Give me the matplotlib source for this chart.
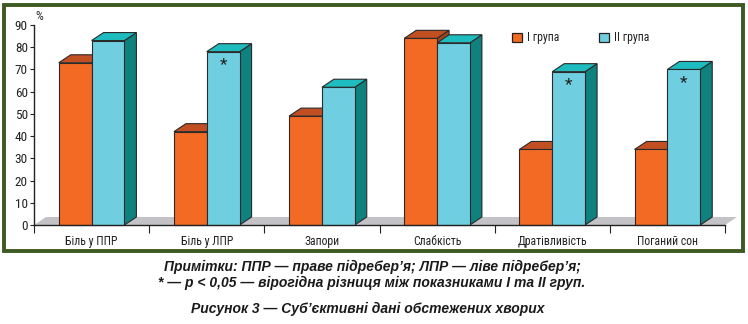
import matplotlib
matplotlib.use("Agg")
import matplotlib.pyplot as plt
from matplotlib import font_manager as fm
from matplotlib.patches import Polygon, Rectangle
from matplotlib.ticker import FixedLocator, NullFormatter, FixedFormatter

_names = {f.name for f in fm.fontManager.ttflist}
narrow = next((n for n in ['Liberation Sans Narrow', 'Roboto Condensed', 'PT Sans Narrow', 'Liberation Sans']
               if n in _names), 'DejaVu Sans')
plt.rcParams['font.family'] = [narrow, 'DejaVu Sans']

categories = ["Біль у ППР", "Біль у ЛПР", "Запори", "Слабкість", "Дратівливість", "Поганий сон"]
group1 = [73, 42, 49, 84, 34, 34]
group2 = [83, 78, 62, 82, 69, 70]
significant = [False, True, False, False, True, True]
series_names = ["І група", "ІІ група"]
yticks = [0, 10, 20, 30, 40, 50, 60, 70, 80, 90]

W, H = 748, 324
fig = plt.figure(figsize=(W / 100, H / 100), dpi=100)

# frame
fig.patches.append(Rectangle((4 / W, 73 / H), 739 / W, 246 / H, transform=fig.transFigure,
                             fill=False, edgecolor='#3E5A23', linewidth=2.8))

ax = fig.add_axes([34 / W, (H - 225) / H, (725 - 34) / W, 200 / H])
ax.set_xlim(0, len(categories))
ax.set_ylim(0, 90)

# depth offsets (in data units) corresponding to ~12 px right, ~8 px up
dx = 12 / 691 * len(categories)
dy = 8 / 200 * 90

# floor
ax.add_patch(Polygon([(0, 0), (len(categories), 0), (len(categories) + dx, dy), (dx, dy)],
                     closed=True, facecolor='#C3C3C7', edgecolor='none', zorder=1, clip_on=False))

colors = {
    0: dict(front='#F26A23', top='#C24F22', side='#A8441C'),
    1: dict(front='#6FCFE0', top='#1EBCBE', side='#0F827F'),
}
ec = '#2A2A2A'
lw = 0.8

def draw_bar(x0, x1, h, c, z):
    front = Polygon([(x0, 0), (x1, 0), (x1, h), (x0, h)], closed=True,
                    facecolor=c['front'], edgecolor=ec, linewidth=lw, zorder=z, clip_on=False)
    top = Polygon([(x0, h), (x1, h), (x1 + dx, h + dy), (x0 + dx, h + dy)], closed=True,
                  facecolor=c['top'], edgecolor=ec, linewidth=lw, zorder=z, clip_on=False)
    side = Polygon([(x1, 0), (x1 + dx, dy), (x1 + dx, h + dy), (x1, h)], closed=True,
                   facecolor=c['side'], edgecolor=ec, linewidth=lw, zorder=z, clip_on=False)
    ax.add_patch(side)
    ax.add_patch(front)
    ax.add_patch(top)

for i, (a, b) in enumerate(zip(group1, group2)):
    draw_bar(i + 0.215, i + 0.50, a, colors[0], 2 + i * 2)
    draw_bar(i + 0.50, i + 0.785, b, colors[1], 3 + i * 2)
    if significant[i]:
        ax.annotate('*', (i + 0.6425, b), xytext=(0, -4), textcoords='offset points',
                    ha='center', va='top', fontsize=12.5, color='#222222', zorder=20)

# axes styling
for s in ['top', 'right']:
    ax.spines[s].set_visible(False)
for s in ['left', 'bottom']:
    ax.spines[s].set_linewidth(1.0)
    ax.spines[s].set_color('#222222')
    ax.spines[s].set_zorder(30)
ax.set_facecolor('none')
ax.set_yticks(yticks)
ax.tick_params(axis='y', length=3, width=0.8, labelsize=9.5, pad=1.5, colors='#222222')
ax.xaxis.set_major_locator(FixedLocator(list(range(len(categories) + 1))))
ax.xaxis.set_major_formatter(NullFormatter())
ax.xaxis.set_minor_locator(FixedLocator([i + 0.5 for i in range(len(categories))]))
ax.xaxis.set_minor_formatter(FixedFormatter(categories))
ax.tick_params(axis='x', which='major', length=6, width=0.8, colors='#222222')
ax.tick_params(axis='x', which='minor', length=0, labelsize=8.5, pad=7, labelcolor='#222222')

fig.text(39 / W, 1 - 17 / H, '%', ha='center', va='center', fontsize=9, color='#222222')

# legend
for j, name in enumerate(series_names):
    lx = [512, 599][j]
    fig.patches.append(Rectangle((lx / W, 1 - 42 / H), 10 / W, 9 / H, transform=fig.transFigure,
                                 facecolor=colors[j]['front'], edgecolor='#222222', linewidth=0.9))
    fig.text((lx + 15) / W, 1 - 38 / H, name, ha='left', va='center', fontsize=8.5, color='#222222')

# notes
note_kw = dict(ha='center', va='center', fontsize=10, fontweight='bold', fontstyle='italic',
               color='#1A1A1A', family=['Liberation Sans', 'DejaVu Sans'])
fig.text(372 / W, 1 - 267 / H, "Примітки: ППР — праве підребер’я; ЛПР — ліве підребер’я;", **note_kw)
fig.text(372 / W, 1 - 283 / H, "* — р < 0,05 — вірогідна різниця між показниками І та ІІ груп.", **note_kw)
fig.text(368 / W, 1 - 309 / H, "Рисунок 3 — Суб’єктивні дані обстежених хворих", **note_kw)

fig.savefig('out.png', dpi=100)
